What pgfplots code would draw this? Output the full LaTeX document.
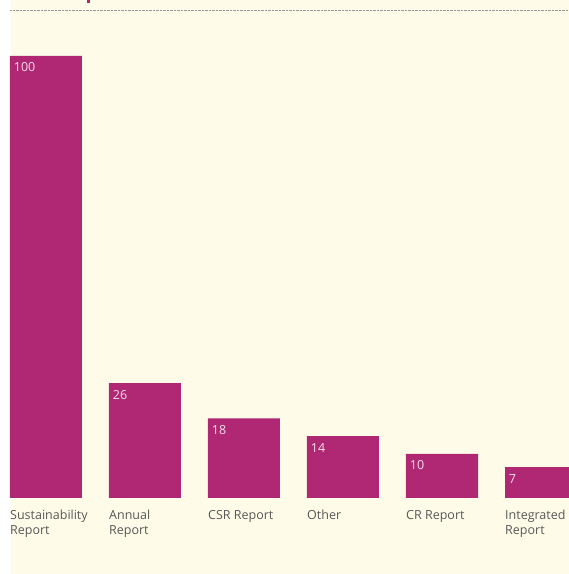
\documentclass[border=0pt]{standalone}
\usepackage{pgfplots}
\pgfplotsset{compat=1.18}
\usepackage{fontspec}
\setmainfont{Open Sans}
\definecolor{barc}{RGB}{176,40,116}
\definecolor{cream}{RGB}{254,252,232}
\definecolor{lab}{RGB}{88,88,88}
\definecolor{vlab}{RGB}{245,222,234}
\begin{document}
\begin{tikzpicture}
\useasboundingbox (0,0) rectangle (569pt,574pt);
\fill[white] (0,0) rectangle (569pt,574pt);
\fill[cream] (11pt,0) rectangle (569pt,574pt);
\fill[barc] (87pt,571pt) rectangle (90pt,574pt);
\draw[gray!80, line width=0.8pt, dash pattern=on 0.7pt off 0.7pt] (10pt,563.5pt) -- (569pt,563.5pt);
\begin{axis}[at={(0,0)}, anchor=south west, scale only axis,
  width=569pt, height=574pt,
  xmin=-0.4646, xmax=5.2828, ymin=-17.195, ymax=112.67,
  axis lines=none, ybar, bar width=72pt, clip mode=individual,
  /pgf/number format/assume math mode=true,
  nodes near coords,
  every node near coord/.append style={anchor=base west, inner sep=0pt,
    xshift=-32.3pt, yshift=-16pt, font=\fontsize{12.5}{15}\selectfont, text=vlab},
]
\addplot[fill=barc, draw=none] coordinates {(0,100) (1,26) (2,18) (3,14) (4,10) (5,7)};
\foreach \i/\t in {0/{Sustainability\\Report},1/{Annual\\Report},2/{CSR Report},3/{Other},4/{CR Report},5/{Integrated\\Report}}{
  \edef\tmp{\noexpand\node[anchor=north west, align=left, inner sep=0pt, text=lab, font=\noexpand\fontsize{12.5}{15.5}\noexpand\selectfont] at (axis cs:\i-0.3636,-2.489) {\noexpand\rule{0pt}{10pt}\unexpanded\expandafter{\t}};}
  \tmp
}
\end{axis}
\end{tikzpicture}
\end{document}
